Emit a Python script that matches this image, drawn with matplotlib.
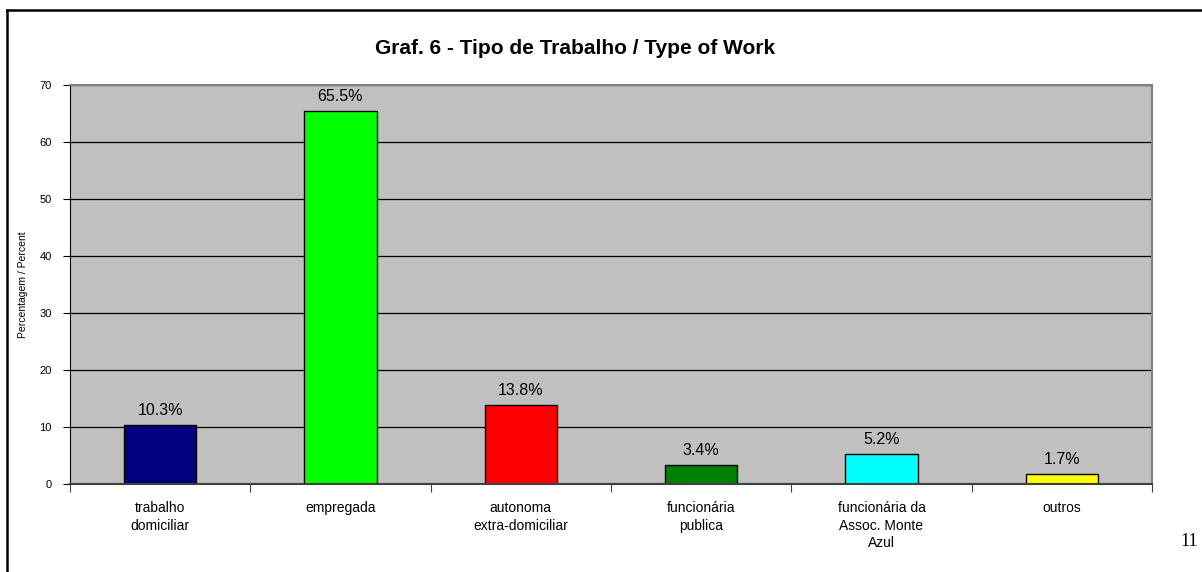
import matplotlib.pyplot as plt
import numpy as np
from matplotlib.lines import Line2D

# dados do grafico
categorias = ['trabalho\ndomiciliar', 'empregada', 'autonoma\nextra-domiciliar',
              'funcionária\npublica', 'funcionária da\nAssoc. Monte\nAzul', 'outros']
valores = [10.3, 65.5, 13.8, 3.4, 5.2, 1.7]
cores = ['#000080', '#00ff00', '#ff0000', '#008000', '#00ffff', '#ffff00']

plt.rcParams['font.family'] = ['Liberation Sans', 'DejaVu Sans']

fig = plt.figure(figsize=(12.02, 5.72), dpi=100)
ax = fig.add_axes([70/1202, 1-484/572, (1152-70)/1202, (484-85)/572])

x = np.arange(len(categorias))
ax.set_facecolor('#c0c0c0')
ax.set_axisbelow(True)
ax.yaxis.grid(True, color='black', linewidth=0.9)
ax.bar(x, valores, width=0.4, color=cores, edgecolor='black', linewidth=1)

for xi, v in zip(x, valores):
    ax.annotate('%.1f%%' % v, (xi, v), xytext=(0, 5), textcoords='offset points',
                ha='center', va='bottom', fontsize=11.5)

ax.set_xlim(-0.5, len(categorias) - 0.5)
ax.set_ylim(0, 70)
ax.set_yticks(range(0, 71, 10))
ax.tick_params(axis='y', labelsize=8, length=5, width=0.8, pad=8)

ax.set_xticks(x)
ax.set_xticklabels(categorias, fontsize=10, linespacing=1.35)
ax.tick_params(axis='x', length=0, pad=12)
ax.set_xticks(np.arange(-0.5, len(categorias)), minor=True)
ax.tick_params(axis='x', which='minor', length=6, width=0.8, color='#404040')

for s in ['top', 'right']:
    ax.spines[s].set_color('#808080')
    ax.spines[s].set_linewidth(1.5)
ax.spines['bottom'].set_color('#404040')
ax.spines['bottom'].set_linewidth(1.5)
ax.spines['left'].set_color('black')

ax.set_ylabel('Percentagem / Percent', fontsize=7.5, labelpad=8)

fig.text(575/1202, 1-48/572, 'Graf. 6 - Tipo de Trabalho / Type of Work',
         ha='center', va='center', fontsize=15, fontweight='bold')

# moldura da pagina
fig.add_artist(Line2D([7/1202, 1], [1-10/572, 1-10/572], color='black', linewidth=1.8))
fig.add_artist(Line2D([7/1202, 7/1202], [0, 1-10/572], color='black', linewidth=1.8))

fig.text(1180/1202, 1-541/572, '11', family='Liberation Serif', fontsize=13,
         ha='left', va='center')

plt.savefig('out.png')
